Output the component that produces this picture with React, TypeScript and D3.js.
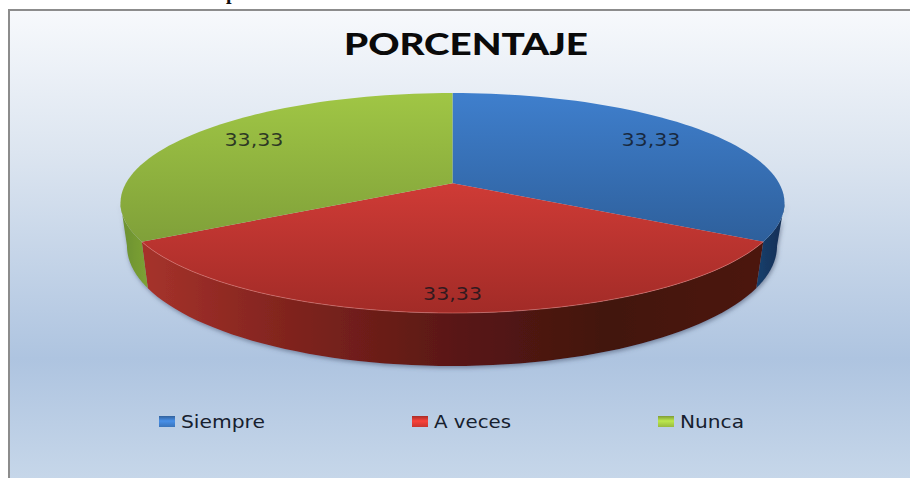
import React from "react";
import * as d3 from "d3";

const categories = ["Siempre", "A veces", "Nunca"];
const values = [33.33, 33.33, 33.34];
const labels = ["33,33", "33,33", "33,33"];
const topColors = [["#3f7fcd", "#2c5c96"], ["#cf3b36", "#a22b27"], ["#a0c645", "#7c9c38"]];
const sideColors = [
  ["#1c4878", "#12325a"],
  ["#a6322b", "#7e231d", "#5a1815", "#42120e", "#4c1611"],
  ["#6f9430", "#85aa38"],
];
const legendColors = ["#3a74bb", "#c9352f", "#98bb3f"];
const titleText = "PORCENTAJE";

const WIDTH = 910;
const HEIGHT = 478;
const PERSPECTIVE = -0.18;

// legend layout, same order as categories
const legendX = [159, 412, 658];
const legendTextWidth = [84, 77, 64];

// top face and lower rim of the pie, both in chart pixels
const topX = d3.scaleLinear().domain([-1, 1]).range([120.5, 784.5]);
const topY = d3.scaleLinear().domain([-1, 1]).range([93, 313]);
const baseX = d3.scaleLinear().domain([-1, 1]).range([127, 777]);
const baseY = d3.scaleLinear().domain([-1, 1]).range([126, 366]);

// angle on the pie to a unit position, with the centre pushed back by perspective
const project = (a: number): [number, number] => {
  const u = Math.sin(a);
  const v = -Math.cos(a);
  const w = 1 + PERSPECTIVE * v;
  return [(u * Math.sqrt(1 - PERSPECTIVE * PERSPECTIVE)) / w, (v + PERSPECTIVE) / w];
};

const line = d3.line();

const sample = (a0: number, a1: number) => d3.range(0, 61).map((i) => a0 + ((a1 - a0) * i) / 60);

const topPoint = (a: number): [number, number] => {
  const [x, y] = project(a);
  return [topX(x), topY(y)];
};
const basePoint = (a: number): [number, number] => {
  const [x, y] = project(a);
  return [baseX(x), baseY(y)];
};

const arcs = d3.pie<number>().sort(null)(values);

export default function App() {
  const apex: [number, number] = [topX(0), topY(PERSPECTIVE)];
  // the wall shows from the widest point of the top face round the front
  const widest = Math.acos(PERSPECTIVE);
  const sideRight = widest;
  const sideLeft = Math.PI * 2 - widest;

  return (
    <svg
      width={WIDTH}
      height={HEIGHT}
      style={{ position: "absolute", left: 0, top: 0, display: "block" }}
    >
      <defs>
        <linearGradient id="bg" x1="0" y1="0" x2="0" y2="1">
          <stop offset="0" stopColor="#f7f9fc" />
          <stop offset="0.3" stopColor="#dce5f0" />
          <stop offset="0.73" stopColor="#aec4e0" />
          <stop offset="1" stopColor="#c8d8ea" />
        </linearGradient>
        {topColors.map((c, i) => (
          <linearGradient
            key={i}
            id={`top${i}`}
            gradientUnits="userSpaceOnUse"
            x1="0"
            y1={i === 1 ? apex[1] : topY(-1)}
            x2="0"
            y2={i === 1 ? topY(1) : topY(0.5)}
          >
            <stop offset="0" stopColor={c[0]} />
            <stop offset="1" stopColor={c[1]} />
          </linearGradient>
        ))}
        {sideColors.map((c, i) => (
          <linearGradient
            key={i}
            id={`side${i}`}
            gradientUnits="userSpaceOnUse"
            x1={i === 1 ? baseX(-0.95) : i === 0 ? baseX(0.9) : baseX(-1)}
            y1="0"
            x2={i === 1 ? baseX(0.95) : i === 0 ? baseX(1) : baseX(-0.9)}
            y2="0"
          >
            {c.map((s, j) => (
              <stop key={j} offset={j / (c.length - 1)} stopColor={s} />
            ))}
          </linearGradient>
        ))}
        {legendColors.map((c, i) => (
          <linearGradient key={i} id={`leg${i}`} x1="0" y1="0" x2="0" y2="1">
            <stop offset="0" stopColor={d3.rgb(c).darker(0.5).formatHex()} />
            <stop offset="0.45" stopColor={d3.rgb(c).brighter(0.6).formatHex()} />
            <stop offset="1" stopColor={c} />
          </linearGradient>
        ))}
        <filter id="soft" x="-5%" y="-5%" width="110%" height="115%">
          <feDropShadow dx="1" dy="2" stdDeviation="2" floodColor="#44506a" floodOpacity="0.55" />
        </filter>
      </defs>

      {/* tail of a text line above the chart, cut by the page edge in the reference too */}
      <text x={226} y={-1} fontFamily="'Liberation Serif', serif" fontWeight={700} fontSize={20} fill="#111">
        p
      </text>

      <rect x={9} y={10} width={WIDTH} height={HEIGHT} fill="url(#bg)" stroke="#8c8c8c" strokeWidth={2} />

      <text
        x={466}
        y={55}
        textAnchor="middle"
        fontFamily="Lato, sans-serif"
        fontWeight={900}
        fontSize={31}
        textLength={244}
        lengthAdjust="spacingAndGlyphs"
        fill="#0a0a0a"
      >
        {titleText}
      </text>

      {/* wall, back to front */}
      <g filter="url(#soft)">
        {arcs.map((d, i) => {
          const from = Math.max(d.startAngle, sideRight);
          const to = Math.min(d.endAngle, sideLeft);
          if (to <= from) return null;
          const upper = sample(from, to).map(topPoint);
          const lower = sample(from, to).map(basePoint).reverse();
          return <path key={i} d={line([...upper, ...lower]) + "Z"} fill={`url(#side${i})`} />;
        })}
      </g>

      {/* top face */}
      {arcs.map((d, i) => {
        const rim = sample(d.startAngle, d.endAngle).map(topPoint);
        return <path key={i} d={line([apex, ...rim]) + "Z"} fill={`url(#top${i})`} />;
      })}
      <path
        d={line(sample(arcs[1].startAngle, arcs[1].endAngle).map(topPoint)) ?? ""}
        fill="none"
        stroke="#e8837c"
        strokeOpacity={0.55}
        strokeWidth={1}
      />

      {arcs.map((d, i) => {
        const [x, y] = topPoint((d.startAngle + d.endAngle) / 2);
        // labels sit inside the rim, pulled toward the apex
        const lx = apex[0] + (x - apex[0]) * 0.765;
        const ly = i === 1 ? y - 13 : apex[1] + (y - apex[1]) * 0.77;
        return (
          <text
            key={i}
            x={lx}
            y={ly}
            textAnchor="middle"
            fontFamily="'DejaVu Sans', sans-serif"
            fontSize={18}
            textLength={59}
            lengthAdjust="spacingAndGlyphs"
            fill="#10141c"
            fillOpacity={0.8}
          >
            {labels[i]}
          </text>
        );
      })}

      {categories.map((c, i) => (
        <g key={c} transform={`translate(${legendX[i]},416)`}>
          <rect x={0} y={0} width={16} height={11} fill={`url(#leg${i})`} />
          <text
            x={22}
            y={12}
            fontFamily="'DejaVu Sans', sans-serif"
            fontSize={17.5}
            textLength={legendTextWidth[i]}
            lengthAdjust="spacingAndGlyphs"
            fill="#16202e"
          >
            {c}
          </text>
        </g>
      ))}
    </svg>
  );
}
